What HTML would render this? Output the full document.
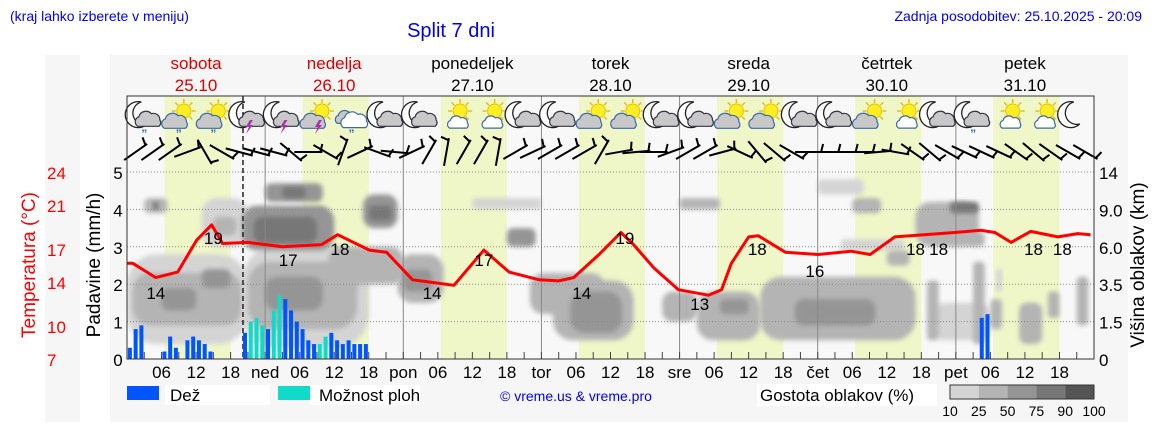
<!DOCTYPE html>
<html><head><meta charset="utf-8">
<style>
html,body{margin:0;padding:0;background:#fff;}
svg{display:block;font-family:"Liberation Sans",sans-serif;}
</style></head>
<body>
<svg id="chart" width="1152" height="443" viewBox="0 0 1152 443" xmlns="http://www.w3.org/2000/svg">
<defs>
<filter id="blur" x="-30%" y="-30%" width="160%" height="160%"><feGaussianBlur stdDeviation="2.5"/></filter>
<clipPath id="plotclip"><rect x="127" y="96" width="967" height="263"/></clipPath>
</defs>
<rect x="45" y="55" width="35" height="367" fill="#f6f6f6"/>
<rect x="110" y="55" width="1018" height="367" fill="#f6f6f6"/>
<text x="10" y="21" font-size="14" fill="#0000ee">(kraj lahko izberete v meniju)</text>
<text x="451" y="37" font-size="20" fill="#0000ee" text-anchor="middle">Split 7 dni</text>
<text x="1142" y="21" font-size="14" fill="#0000ee" text-anchor="end">Zadnja posodobitev: 25.10.2025 - 20:09</text>
<rect x="127" y="96" width="967" height="263" fill="#f8f8f8"/>
<g id="bands"></g>
<g id="clouds" clip-path="url(#plotclip)"></g>
<g id="grid"></g>
<g id="rain"></g>
<g id="temp"></g>
<g id="icons"></g>
<g id="wind"></g>
<g id="axes"></g>
<rect x="127" y="96" width="967" height="263" fill="none" stroke="#333" stroke-width="1"/>
<text transform="translate(35,265) rotate(-90)" font-size="19" fill="#ff0000" text-anchor="middle">Temperatura (°C)</text>
<text transform="translate(100,265) rotate(-90)" font-size="19" fill="#000" text-anchor="middle">Padavine (mm/h)</text>
<text transform="translate(1144,265) rotate(-90)" font-size="19" fill="#000" text-anchor="middle">Višina oblakov (km)</text>
<g>
<rect x="127" y="386" width="32" height="14" fill="#0055ff"/>
<rect x="165" y="385" width="105" height="20" fill="#fff"/>
<text x="170" y="401" font-size="17">Dež</text>
<rect x="278" y="386" width="32" height="14" fill="#11dbc8"/>
<rect x="310" y="385" width="110" height="20" fill="#fff"/>
<text x="319" y="401" font-size="17">Možnost ploh</text>
<text x="500" y="401" font-size="14" fill="#0000ee">© vreme.us &amp; vreme.pro</text>
<rect x="757" y="384" width="180" height="22" fill="#fff"/>
<text x="760" y="401" font-size="17">Gostota oblakov (%)</text>
<g id="cloudlegend"></g>
</g>
</svg>
<script>
// ---- data ----
const dayNames = ["sobota","nedelja","ponedeljek","torek","sreda","četrtek","petek"];
const dayDates = ["25.10","26.10","27.10","28.10","29.10","30.10","31.10"];
const dayAbbr = ["","ned","pon","tor","sre","čet","pet"];
const tempHours = [0,1,5,8.8,12.1,14.7,16.6,21,27,33.8,36.6,42.1,45.1,49.6,52.5,56.8,62,66.4,71.6,75,77.6,82,85.8,88,91.5,95.8,101,103.3,105,108,109.7,114.4,120.1,125.8,129.1,133.4,143.8,148.4,150.8,153.6,157,161.7,165.2,167.4];
const tempValues = [15.7,15.7,14.4,14.9,17.8,19.2,17.5,17.6,17.2,17.4,18.3,16.9,16.7,14.2,14.0,13.7,16.9,14.9,14.2,14.1,14.4,16.5,18.5,17.4,15.3,13.3,12.8,13.3,15.7,18.1,18.2,16.7,16.5,16.8,16.5,18.1,18.5,18.7,18.5,17.6,18.6,18.1,18.4,18.3];
const tempLabelHours = [5,15,28,37,53,62,79,86.5,99.5,109.5,119.5,137,141,157.5,162.5];
const tempLabelValues = [14,19,17,18,14,17,14,19,13,18,16,18,18,18,18];
const rainHours = [0,1,2,6,7,8,10,11,12,13,14,20,24,27,28,29,30,31,32,35,36,37,38,39,40,41,148,149];
const rainValues = [0.3,0.8,0.9,0.2,0.6,0.3,0.5,0.6,0.5,0.4,0.2,0.7,0.8,1.6,1.3,1.0,0.8,0.5,0.4,0.7,0.5,0.4,0.5,0.4,0.4,0.4,1.1,1.2];
const showerHours = [21,22,23,24,25,26,33,34];
const showerValues = [1.0,1.1,0.9,0.6,1.3,1.7,0.4,0.6];
const tempTicks = [24,21,17,14,10,7];
const rainTicks = [0,1,2,3,4,5];
const heightTicks = ["0","1.5","3.5","6.0","9.0","14"];
const windAngles = [-35,-35,-35,-20,60,30,15,15, 15,40,0,30,-70,-25,20,5, -25,-60,-80,-60,-60,-80,-30,-25, -30,-30,-30,-60,-10,-5,0,-20, -30,-30,-15,25,50,40,30,0, 0,0,0,-5,10,35,40,30, 25,25,25,35,40,35,30,30];
const iconTypes = ["mcr","scr","scr","mct","mct","sct","cr","mc","mc","scw","scw","mc","mc","sc","sc","mc","mc","sc","sc","mc","mc","sc","scw","mc","mcr","scw","scw","m"];
// cloud blobs: [startHour,endHour,lowLevel,highLevel,densityClass]
const cloudBlobs = [
[0,21,0.4,2.8,1],[1,20,0.9,2.3,2],[6,12,1.3,1.9,3],[13,18,1.9,2.4,3],[3,7,3.9,4.3,2],[4.5,5.5,4.0,4.2,4],[13,21,3.0,4.3,1],[15,19,3.3,3.8,2],
[20,42,0.3,3.0,1],[21,40,0.8,2.6,2],[24,34,1.3,2.2,3],[20,36,2.9,4.1,3],[22,33,3.1,3.8,4],[24,34,4.2,4.7,3],[27,31,4.3,4.6,4],[41,47,3.5,4.4,3],[42,46,3.7,4.1,4],[35,48,2.0,3.0,2],
[47,55,1.5,2.8,2],[48,53,1.8,2.4,3],[66,71,3.0,3.5,3],[60,72,4.0,4.3,1],
[70,83,1.2,2.3,2],[74,88,0.5,2.1,2],[77,86,0.7,1.8,3],
[93,99,1.0,1.8,2],[99,110,0.5,1.8,2],[103,108,1.2,1.6,3],[110,137,0.5,2.2,2],[116,130,0.9,1.6,3],[96,103,4.0,4.3,2],
[120,128,4.4,4.8,1],[126,131,3.9,4.3,2],[124,135,2.9,3.2,1],[132,136,2.5,2.9,2],
[137,148,3.0,4.2,2],[143,148,3.9,4.2,4],[146,149,3.0,3.4,2],[140,150,0.5,1.5,1],[139,141,0.5,2.1,2],[147,149,0.4,2.6,2],[150,152,0.8,1.6,2],[151,152,1.8,2.4,1],[155,159,0.4,1.5,2],[160,162,1.1,1.8,2],[165,167,0.9,2.2,2]
];
const densityLabels = ["10","25","50","75","90","100"];
const densityColors = ["#d4d4d4","#b4b4b4","#959595","#777777","#555555"];
const nowHour = 20.15;

// ---- scales ----
const X0=127, X1=1094, Y0=359, Y1=172;
const X = h => X0 + h*(X1-X0)/168;
const Y = v => Y0 - v*(Y0-Y1)/5;
const T = t => Y0 - (t-7)*(Y0-Y1)/17;
const NS="http://www.w3.org/2000/svg";
function mk(tag, attrs, parent, text){const e=document.createElementNS(NS,tag);for(const k in attrs)e.setAttribute(k,attrs[k]);if(text!==undefined)e.textContent=text;parent.appendChild(e);return e;}
const G=id=>document.getElementById(id);

for(let d=0; d<7; d++){
  const b=mk("rect",{x:X(d*24+6.5),y:96,width:X(d*24+18)-X(d*24+6.5),height:263,fill:"#eff6c8"},G("bands"));
  
  
  const col = d<2 ? "#dd0000" : "#000";
  const n=mk("text",{x:X(d*24+12),y:69,"font-size":17,fill:col,"text-anchor":"middle"},G("axes"),dayNames[d]);
  
  
  const dt=mk("text",{x:X(d*24+12),y:91,"font-size":17,fill:col,"text-anchor":"middle"},G("axes"),dayDates[d]);
  
  
}
cloudBlobs.forEach(c=>{
  const x=X(c[0]), w=X(c[1])-X(c[0]), y=Y(c[3]), h=Y(c[2])-Y(c[3]);
  const r=mk("rect",{x:x,y:y,width:w,height:h,rx:Math.min(w,h)/3,fill:densityColors[c[4]-1],filter:"url(#blur)"},G("clouds"));
  
  
});
rainTicks.forEach(v=>{ if(v>0){
  const l=mk("line",{x1:X0,x2:X1,y1:Y(v),y2:Y(v),stroke:"#888","stroke-width":1,"stroke-dasharray":"1,2"},G("grid"));
  
  
}});
for(let d=1; d<7; d++){
  const l=mk("line",{x1:X(d*24),x2:X(d*24),y1:96,y2:359,stroke:"#888","stroke-width":1},G("grid"));
  
  
}
const nl=mk("line",{x1:X(nowHour),x2:X(nowHour),y1:96,y2:359,stroke:"#222","stroke-width":1.5,"stroke-dasharray":"5,3"},G("grid"));


const bw=4;
showerHours.forEach((h,i)=>{
  const r=mk("rect",{x:X(h+0.5)-bw/2,y:Y(showerValues[i]),width:bw,height:Y0-Y(showerValues[i]),fill:"#11dbc8"},G("rain"));
  
  
});
rainHours.forEach((h,i)=>{
  const r=mk("rect",{x:X(h+0.5)-bw/2,y:Y(rainValues[i]),width:bw,height:Y0-Y(rainValues[i]),fill:"#0055ff"},G("rain"));
  
  
});
const tl=mk("polyline",{points:tempHours.map((h,i)=>X(h)+","+T(tempValues[i])).join(" "),fill:"none",stroke:"#ff0000","stroke-width":3,"stroke-linejoin":"round"},G("temp"));


tempLabelHours.forEach((h,i)=>{
  const t=mk("text",{x:X(h),y:T(tempLabelValues[i])+17,"font-size":17,fill:"#000","text-anchor":"middle"},G("temp"),String(tempLabelValues[i]));
  
  
});
function cloud(g,cx,cy,s,fill,stroke){
  mk("path",{d:`M${cx-10*s},${cy+6*s} a${5*s} ${5*s} 0 0 1 ${1*s},${-9*s} a${7*s} ${7*s} 0 0 1 ${12*s},${-3*s} a${6*s} ${6*s} 0 0 1 ${8*s},${6*s} a${4*s} ${4*s} 0 0 1 ${-1*s},${6*s} z`,fill:fill,stroke:stroke,"stroke-width":1.2},g);
}
function sun(g,cx,cy){
  for(let k=0;k<8;k++){const a=k*Math.PI/4;mk("line",{x1:cx+Math.cos(a)*8,y1:cy+Math.sin(a)*8,x2:cx+Math.cos(a)*12,y2:cy+Math.sin(a)*12,stroke:"#e8c000","stroke-width":1.5},g);}
  mk("circle",{cx:cx,cy:cy,r:7,fill:"#ffee22",stroke:"#e8c000","stroke-width":1},g);
}
function moon(g,cx,cy){
  mk("path",{d:`M${cx+3},${cy-12} a13 13 0 1 0 6,22 a11 11 0 0 1 -6,-22 z`,fill:"#fff",stroke:"#222","stroke-width":1.3},g);
}
iconTypes.forEach((t,i)=>{
  const cx=X(3+6*i), cy=116;
  const g=mk("g",{},G("icons"));
  
  
  if(t[0]==="m") moon(g,cx-6,cy-2);
  if(t[0]==="s") sun(g,cx+5,cy-5);
  if(t==="mc"||t==="mcr"||t==="mct") cloud(g,cx+4,cy+4,1.05,"#c8c8c8","#334");
  if(t==="sc"||t==="scr"||t==="sct") cloud(g,cx-4,cy+6,1.05,"#c8c8c8","#3a6aa8");
  if(t==="scw") cloud(g,cx+3,cy+7,0.85,"#fff","#3a6aa8");
  if(t==="cr"){cloud(g,cx-5,cy+2,0.9,"#c8c8c8","#3a6aa8");cloud(g,cx+3,cy+5,1.1,"#fff","#3a6aa8");}
  if(t.endsWith("r")) mk("text",{x:cx,y:cy+22,"font-size":12,fill:"#3a6aa8","text-anchor":"middle","font-weight":"bold"},g,"\u201D");
  if(t.endsWith("t")) mk("path",{d:`M${cx+2},${cy+4} l-4,7 h3 l-3,7 l7,-9 h-3 l3,-5 z`,fill:"#aa33aa"},g);
});
windAngles.forEach((a,i)=>{
  const cx=X(1.5+3*i), cy=152;
  const g=mk("g",{transform:`translate(${cx},${cy}) rotate(${a})`},G("wind"));
  
  
  mk("line",{x1:-14,y1:0,x2:14,y2:0,stroke:"#000","stroke-width":2},g);
  mk("line",{x1:12,y1:0,x2:14,y2:-8,stroke:"#000","stroke-width":2},g);
});
tempTicks.forEach(t=>{
  const e=mk("text",{x:47,y:T(t)+7,"font-size":17,fill:"#ff0000"},G("axes"),String(t));
  
  
});
rainTicks.forEach(v=>{
  const e=mk("text",{x:118,y:Y(v)+7,"font-size":17,fill:"#000","text-anchor":"middle"},G("axes"),String(v));
  
  
});
heightTicks.forEach((s,i)=>{
  const e=mk("text",{x:1099,y:Y(i)+7,"font-size":17,fill:"#000"},G("axes"),s);
  
  
});
for(let h=3; h<168; h+=3){
  mk("line",{x1:X(h),x2:X(h),y1:359,y2:352,stroke:"#444","stroke-width":1},G("axes"));
}
for(let d=0; d<7; d++){
  [0,6,12,18].forEach(hh=>{
    const lab = hh===0 ? dayAbbr[d] : String(hh).padStart(2,"0");
    if(!lab) return;
    const e=mk("text",{x:X(d*24+hh),y:378,"font-size":17,fill:"#000","text-anchor":"middle"},G("axes"),lab);
    
    
  });
}
densityColors.forEach((c,i)=>{
  const r=mk("rect",{x:950+i*28.8,y:385,width:28.8,height:14,fill:c},G("cloudlegend"));
  
  
});
mk("rect",{x:950,y:385,width:144,height:14,fill:"none",stroke:"#333"},G("cloudlegend"));
densityLabels.forEach((s,i)=>{
  const e=mk("text",{x:950+i*28.8,y:416,"font-size":14,"text-anchor":"middle"},G("cloudlegend"),s);
  
  
});
</script>
</body></html>
